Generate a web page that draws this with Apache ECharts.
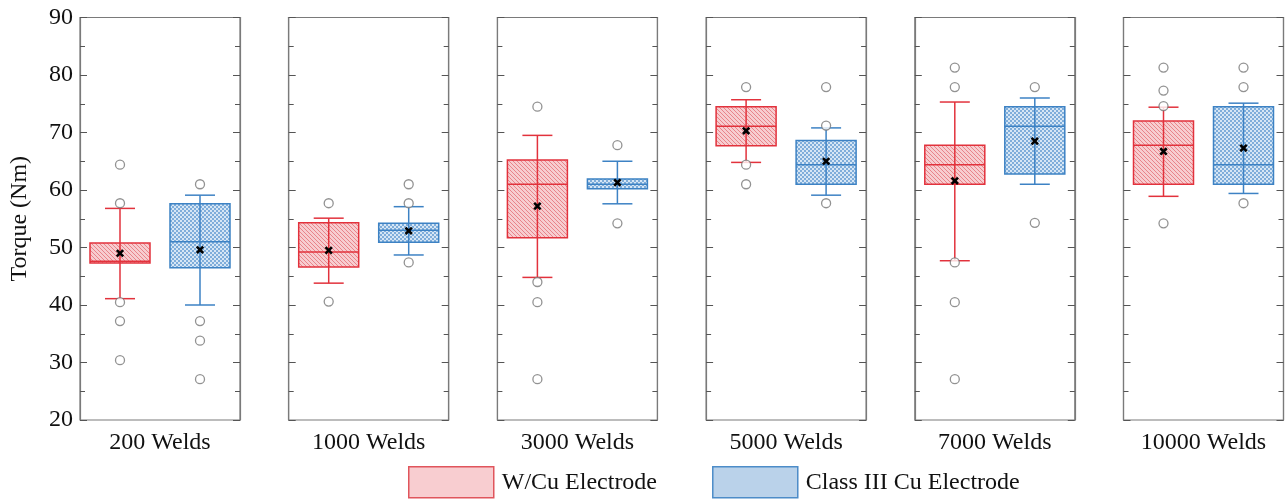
<!DOCTYPE html>
<html><head><meta charset="utf-8">
<script src="https://cdn.jsdelivr.net/npm/echarts@6/dist/echarts.min.js"></script>
<style>html,body{margin:0;padding:0;background:#fff}#c{width:1285px;height:499px}</style>
</head><body><div id="c"></div>
<script>
// ---- data ----
const categories = ['200 Welds','1000 Welds','3000 Welds','5000 Welds','7000 Welds','10000 Welds'];
const seriesNames = ['W/Cu Electrode','Class III Cu Electrode'];
// [whiskerLow, Q1, median, Q3, whiskerHigh, mean]
const wcuStats = [
  [41.1, 47.3, 47.6, 50.8, 56.8, 49.0],
  [43.8, 46.6, 49.2, 54.3, 55.1, 49.5],
  [44.8, 51.7, 61.0, 65.2, 69.5, 57.2],
  [64.8, 67.7, 71.1, 74.5, 75.7, 70.3],
  [47.7, 61.0, 64.4, 67.8, 75.3, 61.6],
  [58.9, 61.0, 67.8, 72.0, 74.4, 66.7]
];
const cuStats = [
  [40.0, 46.5, 51.0, 57.6, 59.1, 49.6],
  [48.7, 50.9, 53.0, 54.2, 57.1, 52.9],
  [57.6, 60.2, 61.0, 61.9, 65.0, 61.3],
  [59.1, 61.0, 64.4, 68.6, 70.8, 65.0],
  [61.0, 62.8, 71.1, 74.5, 76.0, 68.5],
  [59.4, 61.0, 64.4, 74.5, 75.1, 67.3]
];
const wcuOutliers = [
  [64.4, 57.7, 40.5, 37.2, 30.4],
  [57.7, 40.6],
  [74.5, 44.0, 40.5, 27.1],
  [77.9, 64.4, 61.0],
  [81.3, 77.9, 47.4, 40.5, 27.1],
  [81.3, 77.3, 74.6, 54.2]
];
const cuOutliers = [
  [61.0, 37.2, 33.8, 27.1],
  [61.0, 57.7, 47.4],
  [67.8, 54.2],
  [77.9, 71.2, 57.7],
  [77.9, 54.3],
  [81.3, 77.9, 57.7]
];
const yTicks = [20, 30, 40, 50, 60, 70, 80, 90];

// ---- styles ----
const RED = '#e2323c', BLUE = '#3d82c4';
const FONT = 'Liberation Serif';
function makePattern(kind){
  const cv = document.createElement('canvas');
  const s = 4; cv.width = s; cv.height = s;
  const g = cv.getContext('2d');
  if (kind === 'red') {
    g.fillStyle = '#f7cdd0'; g.fillRect(0,0,s,s);
    g.strokeStyle = '#e8848a'; g.lineWidth = 1;
    g.beginPath(); g.moveTo(0,0); g.lineTo(s,s); g.moveTo(-1,s-1); g.lineTo(1,s+1); g.moveTo(s-1,-1); g.lineTo(s+1,1); g.stroke();
  } else {
    g.fillStyle = '#7fadda'; g.fillRect(0,0,s,s);
    g.fillStyle = '#d6e6f5';
    g.fillRect(0,0,2,2); g.fillRect(2,2,2,2);
  }
  return cv;
}
const patRed = makePattern('red'), patBlue = makePattern('blue');

const n = categories.length;
const gLeft = 80, gStep = 208.7, gWidth = 160, gTop = 17.5, gHeight = 402.5;
const grid = [], xAxis = [], yAxis = [], series = [];

function renderBox(color, pat){
  return function(params, api){
    const xi = api.value(0);
    const bw = api.size([1,0])[0] * 0.75;
    const capw = bw / 2;
    const p = k => api.coord([xi, api.value(k)]);
    const lo = p(1), q1 = p(2), md = p(3), q3 = p(4), hi = p(5), mn = p(6);
    const cx = lo[0];
    const ls = {stroke: color, lineWidth: 1.5, fill: null};
    const m = 3.2;
    return {type:'group', children:[
      {type:'rect', shape:{x: cx-bw/2, y: q3[1], width: bw, height: q1[1]-q3[1]},
        style:{fill:{image: pat, repeat:'repeat'}, stroke: color, lineWidth: 1.5}},
      {type:'line', shape:{x1:cx, y1:lo[1], x2:cx, y2:hi[1]}, style: ls},
      {type:'line', shape:{x1:cx-bw/2, y1:md[1], x2:cx+bw/2, y2:md[1]}, style: ls},
      {type:'line', shape:{x1:cx-capw/2, y1:lo[1], x2:cx+capw/2, y2:lo[1]}, style: ls},
      {type:'line', shape:{x1:cx-capw/2, y1:hi[1], x2:cx+capw/2, y2:hi[1]}, style: ls},
      {type:'line', shape:{x1:cx-m, y1:mn[1]-m, x2:cx+m, y2:mn[1]+m}, style:{stroke:'#000', lineWidth:2.6}},
      {type:'line', shape:{x1:cx-m, y1:mn[1]+m, x2:cx+m, y2:mn[1]-m}, style:{stroke:'#000', lineWidth:2.6}}
    ]};
  };
}

for (let i = 0; i < n; i++) {
  grid.push({left: gLeft + i*gStep, top: gTop, width: gWidth, height: gHeight,
    show: true, borderColor: '#7a7a7a', borderWidth: 1.2, backgroundColor: 'transparent'});
  xAxis.push({type:'category', gridIndex:i, data: seriesNames, boundaryGap: true,
    axisLine:{show:false}, axisTick:{show:false}, axisLabel:{show:false},
    name: categories[i], nameLocation:'middle', nameGap: 11,
    nameTextStyle:{fontFamily: FONT, fontSize: 24, color:'#111', verticalAlign:'top'}});
  const yCommon = {type:'value', gridIndex:i, min: yTicks[0], max: yTicks[yTicks.length-1], interval: 10,
    splitLine:{show:false},
    axisLine:{show:true, lineStyle:{color:'#7a7a7a', width:1.2}},
    axisTick:{show:true, inside:true, length:7, lineStyle:{color:'#555', width:1}},
    minorTick:{show:true, splitNumber:2, length:5, lineStyle:{color:'#555', width:1}}};
  yAxis.push(Object.assign({}, yCommon, {position:'left',
    axisLabel:{show: i===0, fontFamily: FONT, fontSize: 24, color:'#111', margin: 7},
    name: i===0 ? 'Torque (Nm)' : '', nameLocation:'middle', nameGap: 48,
    nameTextStyle:{fontFamily: FONT, fontSize: 24, color:'#111'}}));
  yAxis.push(Object.assign({}, yCommon, {position:'right', axisLabel:{show:false}}));

  const stats = [wcuStats[i], cuStats[i]];
  [0,1].forEach(s => {
    series.push({type:'custom', name: seriesNames[s], xAxisIndex:i, yAxisIndex:2*i,
      renderItem: renderBox(s===0?RED:BLUE, s===0?patRed:patBlue),
      itemStyle:{color: s===0?'#f7cfd1':'#b9d2ec', borderColor: s===0?RED:BLUE},
      encode:{x:0, y:[1,2,3,4,5]},
      data: [[s].concat(stats[s])], z: 2});
  });
  const outs = [];
  wcuOutliers[i].forEach(v => outs.push([0, v]));
  cuOutliers[i].forEach(v => outs.push([1, v]));
  series.push({type:'scatter', xAxisIndex:i, yAxisIndex:2*i, symbol:'circle', symbolSize:9,
    itemStyle:{color:'#fff', borderColor:'#777', borderWidth:1.3}, data: outs, z: 3, silent:true});
}

const chart = echarts.init(document.getElementById('c'), null, {renderer:'canvas'});
chart.setOption({
  animation: false,
  grid, xAxis, yAxis, series,
  legend: {left: 403, top: 461, itemWidth: 85, itemHeight: 31, itemGap: 55,
    textStyle:{fontFamily: FONT, fontSize: 24, color:'#111', padding:[0,0,0,3]},
    data:[
      {name:'W/Cu Electrode', icon:'rect', itemStyle:{color:'#f8cdd0', borderColor:'#e0555c', borderWidth:1.5}},
      {name:'Class III Cu Electrode', icon:'rect', itemStyle:{color:'#bad2ea', borderColor:'#4d8cc8', borderWidth:1.5}}
    ]}
});
</script></body></html>
